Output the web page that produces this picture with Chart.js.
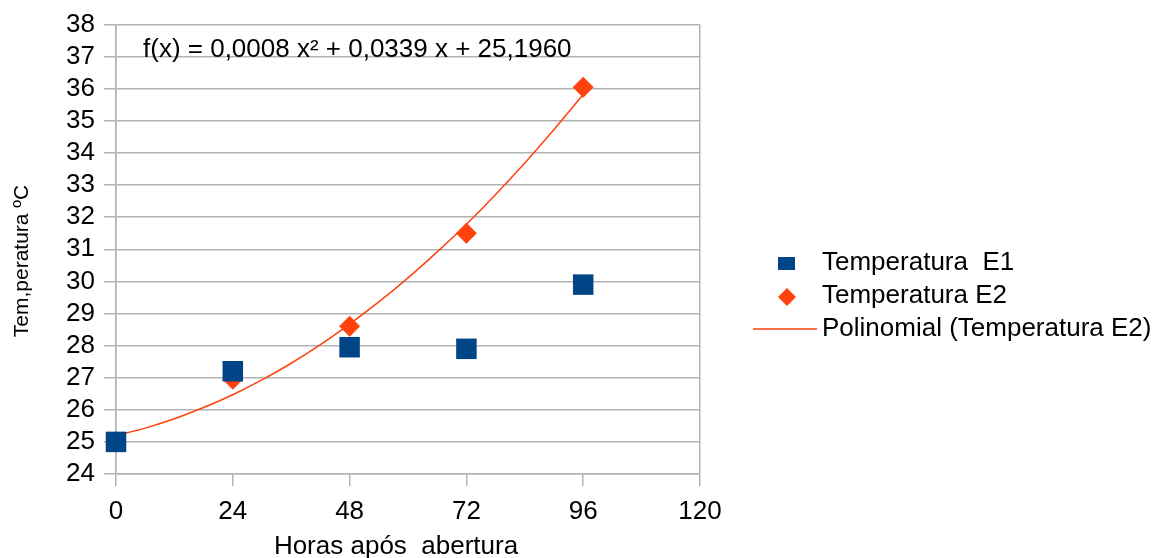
<!DOCTYPE html>
<html>
<head>
<meta charset="utf-8">
<script src="https://cdn.jsdelivr.net/npm/chart.js@4/dist/chart.umd.min.js"></script>
<style>
  html, body { margin: 0; padding: 0; background: #fff; }
  #wrap { width: 1161px; height: 558px; }
</style>
</head>
<body>
<div id="wrap"><canvas id="myChart" width="1161" height="558"></canvas></div>
<script>
const hours = [0, 24, 48, 72, 96];
const tempE1 = [25.0, 27.2, 27.95, 27.9, 29.9];
const tempE2 = [25.0, 26.95, 28.6, 31.5, 36.05];
// trend line points
const trendHours = [0, 6, 12, 18, 24, 30, 36, 42, 48, 54, 60, 66, 72, 78, 84, 90, 96];
const trendTemp = [25.2, 25.43, 25.72, 26.07, 26.47, 26.93, 27.45, 28.03, 28.67, 29.36, 30.11, 30.92, 31.78, 32.71, 33.69, 34.73, 35.82];
const xTicks = [0, 24, 48, 72, 96, 120];
const legendLabels = ['Temperatura  E1', 'Temperatura E2', 'Polinomial (Temperatura E2)'];
const equation = 'f(x) = 0,0008 x² + 0,0339 x + 25,1960';
const xTitle = 'Horas após  abertura';
const yTitle = 'Tem,peratura ºC';

const blue = '#004586';
const orange = '#ff420e';
const grid = '#b3b3b3';
const font = 'Liberation Sans, Arial, sans-serif';

const toPts = (xs, ys) => xs.map((x, i) => ({ x: x, y: ys[i] }));

const extras = {
  id: 'extras',
  afterDraw(chart) {
    const ctx = chart.ctx;
    ctx.save();
    ctx.fillStyle = '#000';
    ctx.font = '26px ' + font;
    ctx.textBaseline = 'middle';
    ctx.textAlign = 'left';
    ctx.fillText(equation, 143, 50);

    // axis titles
    ctx.textAlign = 'center';
    ctx.fillText(xTitle, 396, 547);
    ctx.save();
    ctx.translate(22, 261);
    ctx.rotate(-Math.PI / 2);
    ctx.font = '21px ' + font;
    ctx.fillText(yTitle, 0, 0);
    ctx.restore();

    // legend
    const rows = [263, 296, 329];
    ctx.fillStyle = blue;
    ctx.fillRect(778, 257, 17, 13);
    ctx.fillStyle = orange;
    ctx.beginPath();
    ctx.moveTo(787, 288);
    ctx.lineTo(796, 297);
    ctx.lineTo(787, 306);
    ctx.lineTo(778, 297);
    ctx.closePath();
    ctx.fill();
    ctx.strokeStyle = orange;
    ctx.lineWidth = 1.5;
    ctx.beginPath();
    ctx.moveTo(753, 329);
    ctx.lineTo(817, 329);
    ctx.stroke();
    ctx.fillStyle = '#000';
    ctx.textAlign = 'left';
    legendLabels.forEach((t, i) => ctx.fillText(t, 822, rows[i]));
    ctx.restore();
  }
};

const chartConfig = {
  type: 'scatter',
  data: {
    datasets: [
      {
        label: legendLabels[0],
        data: toPts(hours, tempE1),
        pointStyle: 'rect',
        pointRadius: 14.5,
        pointHoverRadius: 14.5,
        backgroundColor: blue,
        borderColor: blue,
        borderWidth: 0,
        clip: false,
        order: 1
      },
      {
        label: legendLabels[1],
        data: toPts(hours, tempE2),
        pointStyle: 'rectRot',
        pointRadius: 10.5,
        pointHoverRadius: 10.5,
        backgroundColor: orange,
        borderColor: orange,
        borderWidth: 0,
        clip: false,
        order: 2
      },
      {
        label: legendLabels[2],
        data: toPts(trendHours, trendTemp),
        showLine: true,
        pointRadius: 0,
        borderColor: orange,
        borderWidth: 1.5,
        tension: 0.3,
        order: 3
      }
    ]
  },
  options: {
    responsive: false,
    animation: false,
    layout: { padding: { top: 21, right: 461, bottom: 0, left: 0 } },
    plugins: {
      legend: { display: false },
      tooltip: { enabled: false }
    },
    scales: {
      x: {
        type: 'linear',
        min: 0,
        max: 120,
        afterBuildTicks: (scale) => { scale.ticks = xTicks.map(v => ({ value: v })); },
        afterFit: (scale) => { scale.height = 84; },
        ticks: { color: '#000', padding: 10, autoSkip: false, font: { family: font, size: 26 } },
        grid: {
          color: (c) => (c.tick && (c.tick.value === 0 || c.tick.value === 120)) ? grid : 'transparent',
          tickColor: grid,
          tickLength: 12,
          lineWidth: 1.5
        },
        border: { color: grid, width: 1.5 }
      },
      y: {
        min: 24,
        max: 38,
        afterFit: (scale) => { scale.width = 116; },
        ticks: { stepSize: 1, autoSkip: false, color: '#000', padding: 9, font: { family: font, size: 26 } },
        grid: { color: grid, tickColor: grid, tickLength: 12, lineWidth: 1.5 },
        border: { color: grid, width: 1.5 }
      }
    }
  },
  plugins: [extras]
};

const myChart = new Chart(document.getElementById('myChart'), chartConfig);
</script>
</body>
</html>
